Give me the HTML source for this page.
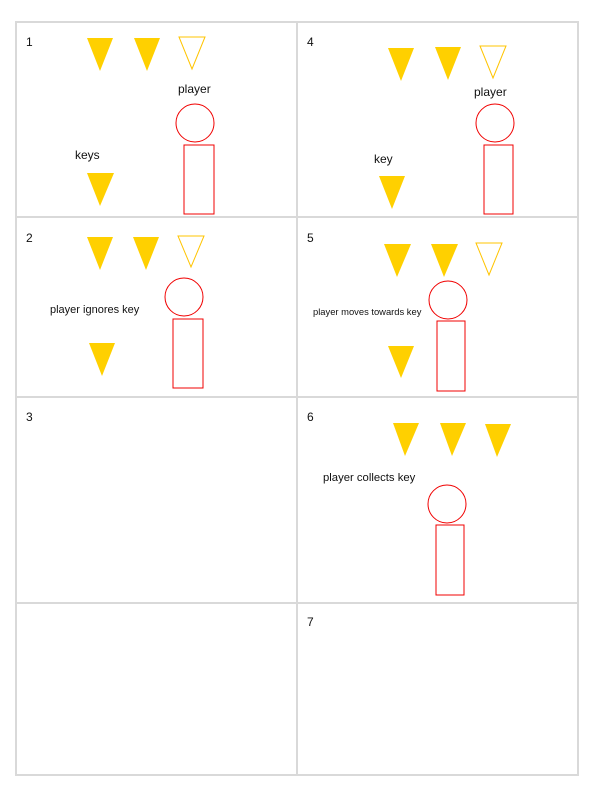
<!DOCTYPE html>
<html><head><meta charset="utf-8"><style>
html,body{margin:0;padding:0;background:#fff;width:592px;height:803px;overflow:hidden}
svg{display:block;font-family:"Liberation Sans",Arial,sans-serif}
.k{fill:#ffd000}
.h{fill:none;stroke:#ffc400;stroke-width:1}
.p{fill:none;stroke:#f00000;stroke-width:1}
.t{fill:#111;font-size:12px}
</style></head><body>
<svg width="592" height="803">
<g stroke="#d9d9d9" stroke-width="2" fill="none">
<rect x="16" y="22" width="562" height="753"/>
<line x1="297" y1="22" x2="297" y2="775"/>
<line x1="16" y1="217" x2="578" y2="217"/>
<line x1="16" y1="397" x2="578" y2="397"/>
<line x1="16" y1="603" x2="578" y2="603"/>
</g>
<g>
<text class="t" x="26" y="46">1</text>
<polygon class="k" points="87,38 113,38 100,71"/>
<polygon class="k" points="134,38 160,38 147,71"/>
<polygon class="h" points="179,37 205,37 192,69"/>
<text class="t" x="178" y="93">player</text>
<circle class="p" cx="195" cy="123" r="19"/>
<rect class="p" x="184" y="145" width="30" height="69"/>
<text class="t" x="75" y="159">keys</text>
<polygon class="k" points="87,173 114,173 100,206"/>
</g>
<g>
<text class="t" x="307" y="46">4</text>
<polygon class="k" points="388,48 414,48 401,81"/>
<polygon class="k" points="435,47 461,47 448,80"/>
<polygon class="h" points="480,46 506,46 493,78"/>
<text class="t" x="474" y="96">player</text>
<circle class="p" cx="495" cy="123" r="19"/>
<rect class="p" x="484" y="145" width="29" height="69"/>
<text class="t" x="374" y="163">key</text>
<polygon class="k" points="379,176 405,176 392,209"/>
</g>
<g>
<text class="t" x="26" y="242">2</text>
<polygon class="k" points="87,237 113,237 100,270"/>
<polygon class="k" points="133,237 159,237 146,270"/>
<polygon class="h" points="178,236 204,236 191,267"/>
<circle class="p" cx="184" cy="297" r="19"/>
<rect class="p" x="173" y="319" width="30" height="69"/>
<text class="t" x="50" y="313" style="font-size:11px">player ignores key</text>
<polygon class="k" points="89,343 115,343 102,376"/>
</g>
<g>
<text class="t" x="307" y="242">5</text>
<polygon class="k" points="384,244 411,244 397,277"/>
<polygon class="k" points="431,244 458,244 444,277"/>
<polygon class="h" points="476,243 502,243 489,275"/>
<circle class="p" cx="448" cy="300" r="19"/>
<rect class="p" x="437" y="321" width="28" height="70"/>
<text class="t" x="313" y="315" style="font-size:9.4px">player moves towards key</text>
<polygon class="k" points="388,346 414,346 401,378"/>
</g>
<g>
<text class="t" x="26" y="421">3</text>
</g>
<g>
<text class="t" x="307" y="421">6</text>
<polygon class="k" points="393,423 419,423 405,456"/>
<polygon class="k" points="440,423 466,423 452,456"/>
<polygon class="k" points="485,424 511,424 497,457"/>
<text class="t" x="323" y="481" style="font-size:11.3px">player collects key</text>
<circle class="p" cx="447" cy="504" r="19"/>
<rect class="p" x="436" y="525" width="28" height="70"/>
</g>
<g>
<text class="t" x="307" y="626">7</text>
</g>
</svg>
</body></html>
